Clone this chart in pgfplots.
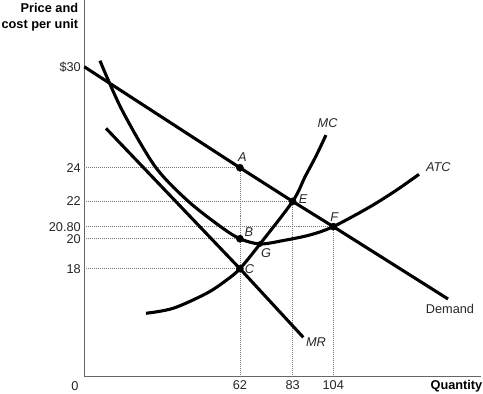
\documentclass[border=0pt]{standalone}
\usepackage{pgfplots}
\pgfplotsset{compat=1.18}
\usepackage{fontspec}
\setmainfont{Liberation Sans}
\tikzset{
  dl/.style={black!55, line width=0.8pt, dash pattern=on 0.8pt off 1.2pt},
  crv/.style={black, line width=3.1pt},
  lab/.style={font=\fontsize{12.8}{15}\selectfont\itshape, text=black!85},
}
\begin{document}
\begin{tikzpicture}
\begin{axis}[
  name=ax,
  scale only axis, width=396.7bp, height=376.7bp,
  x coord trafo/.code={\pgfmathparse{(#1<=83) ? (#1) : ((#1<=104) ? (83+(#1-83)*0.7714) : (#1-4.8))}},
  y coord trafo/.code={\pgfmathparse{(#1<=18) ? (#1) : ((#1<=20) ? (18+(#1-18)*0.89) : ((#1<=20.8) ? (19.78+(#1-20)*0.9) : ((#1<=22) ? (20.5+(#1-20.8)*1.25) : (#1))))}},
  xmin=0, xmax=162.85, ymin=11.58, ymax=33.97,
  axis x line*=bottom, axis y line*=left,
  axis line style={-, draw=black!60, line width=1.2pt},
  xtick={62,83,104}, xticklabels={62,83,104},
  ytick={18,20,20.8,22,24,30}, yticklabels={18,20,20.80,22,24,\$30},
  major tick length=0pt,
  tick label style={font=\fontsize{12.8}{15}\selectfont, text=black!85},
  clip=false,
]
% dotted guide lines
\addplot[dl] coordinates {(0,24)(62,24)};
\addplot[dl] coordinates {(0,22)(83,22)};
\addplot[dl] coordinates {(0,20.8)(104,20.8)};
\addplot[dl] coordinates {(0,20)(62,20)};
\addplot[dl] coordinates {(0,18)(62,18)};
\addplot[dl] coordinates {(62,11.58)(62,24)};
\addplot[dl] coordinates {(83,11.58)(83,22)};
\addplot[dl] coordinates {(104,11.58)(104,20.8)};
% Demand
\addplot[crv, sharp plot] coordinates {(0,30)(62,24)(83,22)(104,20.8)(149.7,16.2)};
% MR
\addplot[crv, sharp plot] coordinates {(8.65,26.34)(62,18)(88.5,13.92)};
% ATC
\addplot[crv, smooth, tension=0.5] coordinates {
(6.25,30.36)(15.02,27.43)(28.17,24.08)(41.31,22.02)(54.46,20.78)
(62,20)(70,19.65)(79.28,19.88)(91.97,20.25)(104,20.8)(118.6,21.74)(129.3,22.68)(138.15,23.61)};
% MC
\addplot[crv, smooth, tension=0.55] coordinates {
(24.58,15.35)(35.46,15.65)(48.76,16.54)(56.73,17.33)(62,18)(70,19.65)(83,22)(89.35,23.45)(95.1,24.70)(100.2,25.94)};
% points
\addplot[only marks, mark=*, mark size=3.6pt, black] coordinates {(62,24)(83,22)(104,20.8)(62,20)(62,18)};
\addplot[only marks, mark=*, mark size=2.6pt, black] coordinates {(70,19.65)};
% labels
\node[lab] at (axis cs:62,24) [xshift=2.4bp, yshift=10.3bp] {A};
\node[lab] at (axis cs:62,20) [xshift=9bp, yshift=6.7bp] {B};
\node[lab] at (axis cs:70,19.65) [xshift=6bp, yshift=-9.3bp] {G};
\node[lab] at (axis cs:62,18) [xshift=9.5bp, yshift=-0.6bp] {C};
\node[lab] at (axis cs:83,22) [xshift=10.6bp, yshift=2bp] {E};
\node[lab] at (axis cs:104,20.8) [xshift=1bp, yshift=10bp] {F};
\node[lab] at (axis cs:100.2,25.94) [xshift=1.7bp, yshift=11.7bp] {MC};
\node[lab] at (axis cs:138.15,23.61) [xshift=19.3bp, yshift=7.6bp] {ATC};
\node[lab] at (axis cs:88.5,13.92) [xshift=12.7bp, yshift=-4.4bp] {MR};
\node[lab, font=\fontsize{12.8}{15}\selectfont] at (axis cs:149.7,16.2) [xshift=2bp, yshift=-10bp] {Demand};
% axis titles
\node[anchor=north east, align=right, font=\fontsize{12.8}{16}\selectfont\bfseries, inner sep=0pt]
  at (rel axis cs:0,1) [xshift=-6bp, yshift=-3bp] {Price and\\cost per unit};
\node[anchor=east, font=\fontsize{12.8}{15}\selectfont\bfseries, inner sep=0pt]
  at (rel axis cs:1,0) [xshift=1.5bp, yshift=-9.3bp] {Quantity};
\node[font=\fontsize{12.8}{15}\selectfont, text=black!85, inner sep=0pt]
  at (rel axis cs:0,0) [xshift=-9.3bp, yshift=-9.3bp] {0};
\end{axis}
\pgfresetboundingbox
\path[use as bounding box] ([shift={(-84.3bp,-17.3bp)}]ax.south west) rectangle ([shift={(2bp,0bp)}]ax.north east);
\end{tikzpicture}
\end{document}
